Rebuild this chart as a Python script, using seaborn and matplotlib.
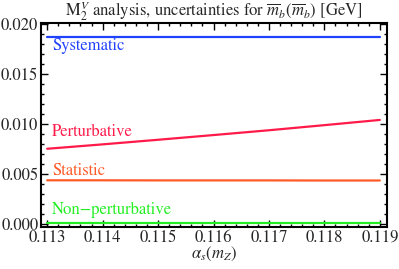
import pandas as pd
import numpy as np
import seaborn as sns
import matplotlib.pyplot as plt
from matplotlib.ticker import MultipleLocator

alphas = [0.113, 0.114, 0.115, 0.116, 0.117, 0.118, 0.119]
systematic = [0.01864, 0.01864, 0.01864, 0.01864, 0.01864, 0.01864, 0.01864]
perturbative = [0.00752, 0.00796, 0.00842, 0.00889, 0.00937, 0.00988, 0.01040]
statistic = [0.00437, 0.00437, 0.00436, 0.00436, 0.00436, 0.00435, 0.00435]
nonpert = [0.00010, 0.00010, 0.00010, 0.00010, 0.00010, 0.00010, 0.00010]

names = ["Systematic", "Perturbative", "Statistic", "Non\u2212perturbative"]
colors = ["#2042ff", "#ff1a4a", "#ff5a28", "#22ee22"]
label_y = [0.0178, 0.0092, 0.00525, 0.0014]

df = pd.concat([
    pd.DataFrame({"alpha": alphas, "value": vals, "series": name})
    for name, vals in zip(names, [systematic, perturbative, statistic, nonpert])
])

sns.set_style("ticks")
plt.rcParams["font.family"] = ["STIXGeneral", "DejaVu Serif"]
plt.rcParams["mathtext.fontset"] = "stix"

fig = plt.figure(figsize=(3.99, 2.69), dpi=100)
ax = fig.add_axes([0.103, 0.156, 0.867, 0.759])
sns.lineplot(data=df, x="alpha", y="value", hue="series", hue_order=names,
             palette=colors, linewidth=1.6, legend=False, ax=ax)

for name, c, yy in zip(names, colors, label_y):
    ax.text(0.11309, yy, name, color=c, fontsize=12, va="center", ha="left")

ax.set_xlim(0.11289, 0.11913)
ax.set_ylim(-0.0003, 0.0201)
ax.xaxis.set_major_locator(MultipleLocator(0.001))
ax.xaxis.set_minor_locator(MultipleLocator(0.0002))
ax.yaxis.set_major_locator(MultipleLocator(0.005))
ax.yaxis.set_minor_locator(MultipleLocator(0.001))
ax.xaxis.set_major_formatter(plt.FuncFormatter(lambda v, p: f"{v:.3f}"))
ax.yaxis.set_major_formatter(plt.FuncFormatter(lambda v, p: f"{v:.3f}"))
ax.tick_params(which="both", direction="in", top=True, right=True, labelsize=12,
               color="black", width=1)
ax.tick_params(which="major", length=5, pad=2)
ax.tick_params(which="minor", length=2.5)
for s in ax.spines.values():
    s.set_linewidth(1.5)
    s.set_color("black")

ax.set_xlabel(r"$\alpha_s(m_Z)$", fontsize=12, labelpad=-1)
ax.set_ylabel("")
ax.set_title(r"M$_2^V$ analysis, uncertainties for $\overline{m}_b(\overline{m}_b)$ [GeV]",
             fontsize=12, pad=2)

plt.savefig("out.png", dpi=100)
